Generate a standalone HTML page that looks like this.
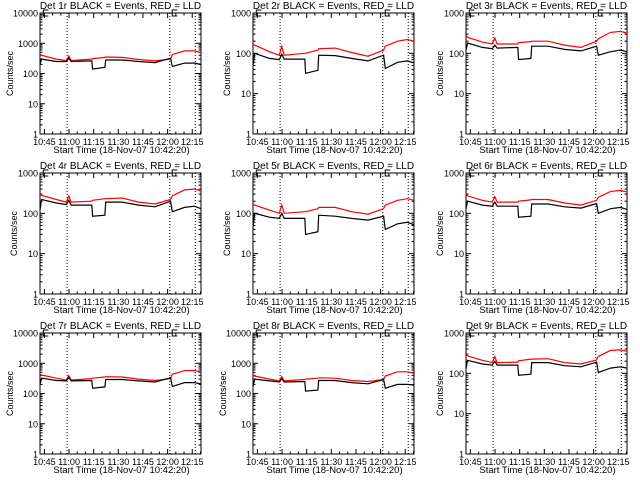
<!DOCTYPE html>
<html><head><meta charset="utf-8"><style>
html,body{margin:0;padding:0;background:#fff;}
svg{display:block;font-family:"Liberation Sans",sans-serif;}
</style></head><body>
<svg id="chart" width="640" height="480" viewBox="0 0 640 480" xmlns="http://www.w3.org/2000/svg">
<rect width="640" height="480" fill="#fff"/>
</svg>
<script>
// minutes since 10:42:20 start time
const times = [0, 1, 10, 16, 17.5, 19, 31.5, 32, 39.5, 40, 50, 60, 70, 79.5, 80.5, 88, 94, 98];
const tickLabels = ["10:45","11:00","11:15","11:30","11:45","12:00","12:15"];
const tickMinutes = [2.67, 17.67, 32.67, 47.67, 62.67, 77.67, 92.67];
const dottedMinutes = [16.5, 79, 94.5];
const eventMarkMinutes = [2, 80.5];
const detNames = ["Det 1r","Det 2r","Det 3r","Det 4r","Det 5r","Det 6r","Det 7r","Det 8r","Det 9r"];
const yTopDecade = [4,3,3,3,3,3,4,4,3];
const black1 = [200,300,250,250,320,250,260,140,160,280,280,250,230,320,170,220,220,200];
const red1   = [420,400,300,270,380,270,300,310,340,350,340,290,260,300,420,560,560,500];
const black2 = [50,100,75,70,95,72,72,32,38,90,88,75,65,90,42,60,65,58];
const red2   = [170,160,110,90,150,90,100,100,120,130,135,105,85,120,150,200,220,200];
const black3 = [120,180,140,130,160,135,140,70,75,150,150,125,115,150,90,110,120,110];
const red3   = [280,250,190,170,240,170,170,185,195,200,200,160,140,200,230,330,350,320];
const black4 = [120,220,180,165,210,160,160,85,90,190,190,160,145,200,110,140,150,130];
const red4   = [300,280,220,190,270,190,200,210,230,230,240,190,170,220,270,380,400,360];
const black5 = [45,100,80,75,100,75,75,30,35,90,85,75,68,85,40,55,60,52];
const red5   = [170,160,120,100,160,100,110,110,130,140,140,110,95,130,160,210,230,210];
const black6 = [130,200,160,150,190,150,150,80,85,170,170,145,135,175,100,130,140,125];
const red6   = [300,270,210,190,260,190,190,200,215,220,220,180,160,210,250,350,370,340];
const black7 = [200,320,270,260,340,260,270,150,165,290,290,260,240,330,170,230,230,210];
const red7   = [430,410,320,280,390,280,310,320,350,360,350,300,270,310,430,570,570,510];
const black8 = [170,300,260,240,310,240,250,120,130,270,270,230,210,290,150,200,200,190];
const red8   = [400,380,300,260,360,260,290,300,320,330,320,270,250,290,380,520,520,470];
const black9 = [130,210,170,160,200,160,160,90,95,185,185,155,145,190,105,135,145,135];
const red9   = [290,270,210,185,260,185,190,205,225,225,230,185,170,215,265,370,380,350];
const blacks = [black1,black2,black3,black4,black5,black6,black7,black8,black9];
const reds = [red1,red2,red3,red4,red5,red6,red7,red8,red9];

const NS = "http://www.w3.org/2000/svg";
const svg = document.getElementById('chart');
function mk(tag, attrs, parent){const e=document.createElementNS(NS,tag);for(const k in attrs)e.setAttribute(k,attrs[k]);parent.appendChild(e);return e;}

const PL=40, PR=201, PT=13, PB=134, TMAX=98;
for(let p=0;p<9;p++){
  const ox=(p%3)*213, oy=Math.floor(p/3)*160;
  const g=mk('g',{transform:`translate(${ox},${oy})`},svg);
  
  
  const top=yTopDecade[p];
  const xs=t=>PL+(t/TMAX)*(PR-PL);
  const ys=v=>PB-(Math.log10(v)/top)*(PB-PT);
  const title=mk('text',{x:(PL+PR)/2,y:9,'font-size':'10','text-anchor':'middle',fill:'#000'},g);
  title.textContent=detNames[p]+" BLACK = Events, RED = LLD";
  
  
  const fr=mk('rect',{x:PL,y:PT,width:PR-PL,height:PB-PT,fill:'none',stroke:'#000','stroke-width':1},g);
  
  
  for(let d=0;d<=top;d++){
    const y=ys(Math.pow(10,d));
    mk('line',{x1:PL,x2:PL+5,y1:y,y2:y,stroke:'#000'},g);
    mk('line',{x1:PR-5,x2:PR,y1:y,y2:y,stroke:'#000'},g);
    const lb=mk('text',{x:PL-2,y:y+3.5,'font-size':'9','text-anchor':'end',fill:'#000'},g);
    lb.textContent=String(Math.pow(10,d));
    
    
    if(d<top){for(let m=2;m<=9;m++){const ym=ys(m*Math.pow(10,d));
      mk('line',{x1:PL,x2:PL+2.5,y1:ym,y2:ym,stroke:'#000'},g);
      mk('line',{x1:PR-2.5,x2:PR,y1:ym,y2:ym,stroke:'#000'},g);}}
  }
  const yl=mk('text',{x:0,y:0,'font-size':'9','text-anchor':'middle',fill:'#000',transform:`translate(${top===4?13:17},${(PT+PB)/2}) rotate(-90)`},g);
  yl.textContent="Counts/sec";
  
  
  tickMinutes.forEach((tm,i)=>{
    const x=xs(tm);
    mk('line',{x1:x,x2:x,y1:PB,y2:PB-5,stroke:'#000'},g);
    mk('line',{x1:x,x2:x,y1:PT,y2:PT+5,stroke:'#000'},g);
    const lb=mk('text',{x:x,y:PB+11,'font-size':'9','text-anchor':'middle',fill:'#000'},g);
    lb.textContent=tickLabels[i];
    
    
    for(let k=1;k<3;k++){const xm=xs(tm+k*5);if(xm<PR){mk('line',{x1:xm,x2:xm,y1:PB,y2:PB-2.5,stroke:'#000'},g);mk('line',{x1:xm,x2:xm,y1:PT,y2:PT+2.5,stroke:'#000'},g);}}
  });
  const xl=mk('text',{x:(PL+PR)/2+1,y:PB+19,'font-size':'9.5','text-anchor':'middle',fill:'#000'},g);
  xl.textContent="Start Time (18-Nov-07 10:42:20)";
  
  
  dottedMinutes.forEach(tm=>{const x=xs(tm);
    const l=mk('line',{x1:x,x2:x,y1:PT,y2:PB,stroke:'#000','stroke-dasharray':'1,2'},g);
    
    });
  eventMarkMinutes.forEach(tm=>{const x=xs(tm);
    const e=mk('path',{d:`M${x+5},${PT-3}H${x}V${PT+3}H${x+5}`,fill:'none',stroke:'#000'},g);
    
    });
  function stepPath(vals){let d='';vals.forEach((v,i)=>{const x=xs(times[i]),y=ys(v);d+=(i?'L':'M')+x.toFixed(1)+','+y.toFixed(1);});return d;}
  const rp=mk('path',{d:stepPath(reds[p]),fill:'none',stroke:'#f00','stroke-width':1.2},g);
  
  
  const bp=mk('path',{d:stepPath(blacks[p]),fill:'none',stroke:'#000','stroke-width':1.2},g);
  
  
}
</script>
</body></html>
